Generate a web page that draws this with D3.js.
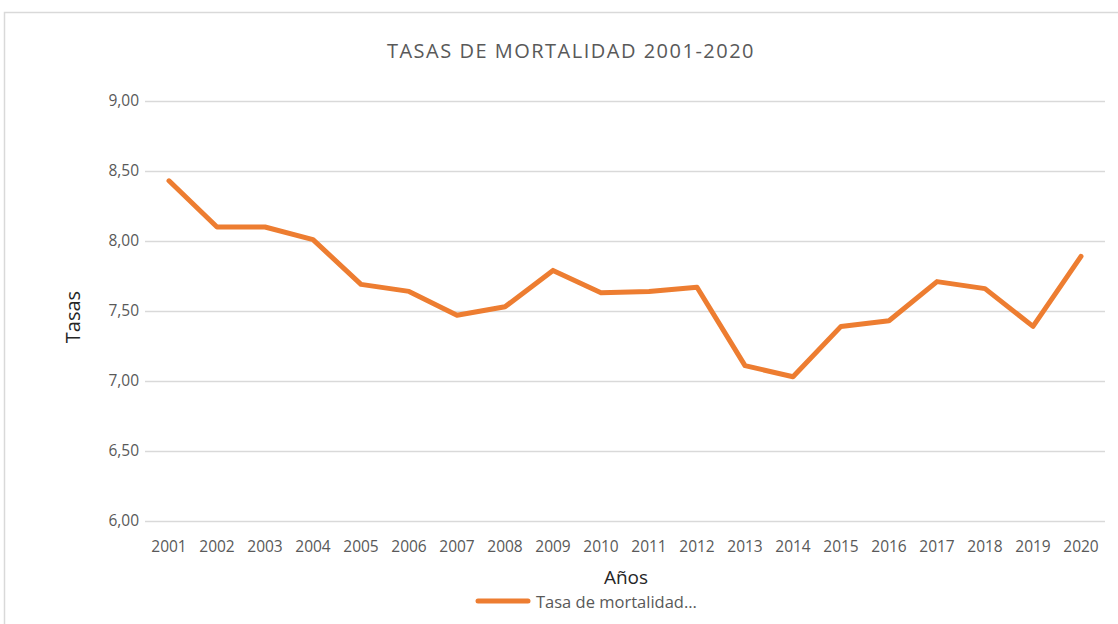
<!DOCTYPE html>
<html>
<head>
<meta charset="utf-8">
<script src="https://cdn.jsdelivr.net/npm/d3@7"></script>
<style>
  body { margin: 0; background: #fff; }
  text { font-family: "Open Sans", sans-serif; }
</style>
</head>
<body>
<div class="visContainer"></div>
<script>
const years = ['2001','2002','2003','2004','2005','2006','2007','2008','2009','2010',
               '2011','2012','2013','2014','2015','2016','2017','2018','2019','2020'];
const tasas = [8.43, 8.10, 8.10, 8.01, 7.69, 7.64, 7.47, 7.53, 7.79, 7.63,
               7.64, 7.67, 7.11, 7.03, 7.39, 7.43, 7.71, 7.66, 7.39, 7.89];
const yTicks = [6, 6.5, 7, 7.5, 8, 8.5, 9];
const seriesName = 'Tasa de mortalidad...';

const width = 1118;
const height = 624;
const plotLeft = 145, plotRight = 1105, plotTop = 101, plotBottom = 521;

const svg = d3.select('.visContainer')
              .append('svg')
              .attr('width', width)
              .attr('height', height);

// chart frame
svg.append('rect')
   .attr('x', 4.5).attr('y', 12.5)
   .attr('width', 1130).attr('height', 640)
   .attr('fill', 'none')
   .attr('stroke', '#d9d9d9')
   .attr('stroke-width', 1.5);

const xScale = d3.scaleBand()
                 .domain(years)
                 .range([plotLeft, plotRight]);

const yScale = d3.scaleLinear()
                 .domain([6, 9])
                 .range([plotBottom, plotTop]);

// gridlines + y labels
const yAxis = d3.axisLeft(yScale)
                .tickValues(yTicks)
                .tickSize(-(plotRight - plotLeft))
                .tickPadding(6)
                .tickFormat(d => d3.format('.2f')(d).replace('.', ','));

const gy = svg.append('g')
   .attr('id', 'y-axis')
   .attr('transform', 'translate(' + plotLeft + ', 0)')
   .call(yAxis);
gy.select('.domain').remove();
gy.selectAll('line').attr('stroke', '#d9d9d9').attr('stroke-width', 1.5);
gy.selectAll('text').attr('fill', '#595959').style('font-size', '15.5px');

const xAxis = d3.axisBottom(xScale).tickSize(0).tickPadding(20);
const gx = svg.append('g')
   .attr('id', 'x-axis')
   .attr('transform', 'translate(0, ' + plotBottom + ')')
   .call(xAxis);
gx.select('.domain').remove();
gx.selectAll('text').attr('fill', '#595959').style('font-size', '15.5px');

const line = d3.line()
               .x((d, i) => xScale(years[i]) + xScale.bandwidth() / 2)
               .y(d => yScale(d));

svg.append('path')
   .datum(tasas)
   .attr('d', line)
   .attr('fill', 'none')
   .attr('stroke', '#ED7D31')
   .attr('stroke-width', 5)
   .attr('stroke-linejoin', 'round')
   .attr('stroke-linecap', 'round');

// title
svg.append('text')
   .attr('x', 571).attr('y', 58)
   .attr('text-anchor', 'middle')
   .attr('fill', '#595959')
   .style('font-size', '20px')
   .style('letter-spacing', '1.5px')
   .text('TASAS  DE  MORTALIDAD  2001-2020');

// axis titles
svg.append('text')
   .attr('transform', 'translate(80, 317) rotate(-90)')
   .attr('text-anchor', 'middle')
   .attr('fill', '#262626')
   .style('font-size', '20px')
   .text('Tasas');

svg.append('text')
   .attr('x', 626).attr('y', 584)
   .attr('text-anchor', 'middle')
   .attr('fill', '#262626')
   .style('font-size', '19px')
   .text('Años');

// legend
svg.append('line')
   .attr('x1', 478).attr('x2', 528)
   .attr('y1', 601).attr('y2', 601)
   .attr('stroke', '#ED7D31')
   .attr('stroke-width', 5)
   .attr('stroke-linecap', 'round');

svg.append('text')
   .attr('x', 536).attr('y', 608)
   .attr('fill', '#595959')
   .style('font-size', '16.5px')
   .text(seriesName);
</script>
</body>
</html>
